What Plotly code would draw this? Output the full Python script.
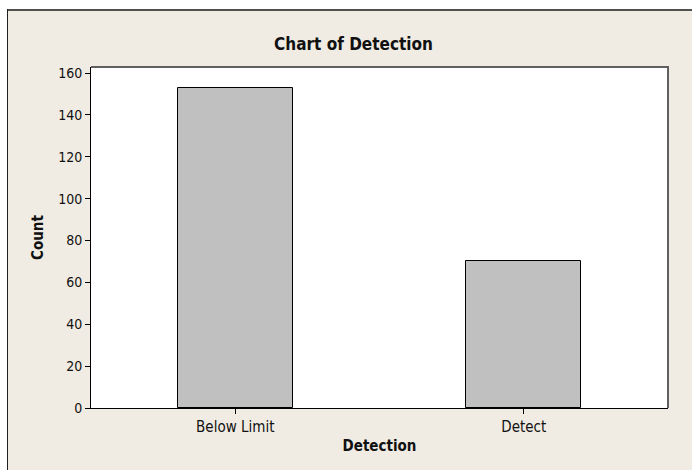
import plotly.graph_objects as go

categories = ["Below Limit", "Detect"]
counts = [153, 70]
y_ticks = [0, 20, 40, 60, 80, 100, 120, 140, 160]

W, H = 692, 470
L, R, T, B = 91, 668, 67, 408
pw, ph = R - L, B - T

def px_x(p):
    return (p - L) / pw

def px_y(p):
    return (B - p) / ph

FONT = "DejaVu Sans Condensed"
BEIGE = "#f0ece3"

fig = go.Figure(go.Bar(
    x=categories, y=counts, width=0.4,
    marker=dict(color="#c0c0c0", line=dict(color="black", width=1)),
))

shapes = [
    # white margin outside the graph frame
    dict(type="rect", xref="paper", yref="paper", x0=px_x(-5), x1=px_x(700), y0=px_y(9), y1=px_y(-5),
         fillcolor="white", line=dict(width=0), layer="below"),
    dict(type="rect", xref="paper", yref="paper", x0=px_x(-5), x1=px_x(7), y0=px_y(480), y1=px_y(-5),
         fillcolor="white", line=dict(width=0), layer="below"),
    # frame lines
    dict(type="line", xref="paper", yref="paper", x0=px_x(7), x1=px_x(700), y0=px_y(10), y1=px_y(10),
         line=dict(color="#505050", width=2)),
    dict(type="line", xref="paper", yref="paper", x0=px_x(7.5), x1=px_x(7.5), y0=px_y(9), y1=px_y(480),
         line=dict(color="#202020", width=1)),
    # data region top/right border
    dict(type="line", xref="paper", yref="paper", x0=0, x1=px_x(R + 1), y0=1, y1=1,
         line=dict(color="#606060", width=2)),
    dict(type="line", xref="paper", yref="paper", x0=px_x(R), x1=px_x(R), y0=0, y1=1,
         line=dict(color="#606060", width=2)),
]

fig.update_layout(
    width=W, height=H,
    margin=dict(l=L, r=W - R, t=T, b=H - B, pad=0),
    paper_bgcolor=BEIGE, plot_bgcolor="white",
    font=dict(family=FONT, size=15, color="#111111"),
    title=dict(text="<b>Chart of Detection</b>", xref="container", x=353.5 / W, xanchor="center",
               yref="container", y=1 - 44 / H, yanchor="middle", font=dict(size=17, color="#111111")),
    showlegend=False,
    bargap=0,
    shapes=shapes,
    xaxis=dict(range=[-0.5, 1.5], showline=True, linecolor="black", linewidth=1,
               ticks="outside", ticklen=5, tickcolor="black", showgrid=False, zeroline=False,
               title=dict(text="<b>Detection</b>", standoff=5, font=dict(size=15))),
    yaxis=dict(range=[0, 162.9], tickvals=y_ticks, showline=True, linecolor="black", linewidth=1,
               ticks="outside", ticklen=5, tickcolor="black", showgrid=False, zeroline=False,
               tickfont=dict(size=14),
               title=dict(text="<b>Count</b>", standoff=10, font=dict(size=15))),
)

fig.write_html("out.html", config={"displayModeBar": False},
               post_script="document.body.style.margin='0px';document.body.style.overflow='hidden';")
